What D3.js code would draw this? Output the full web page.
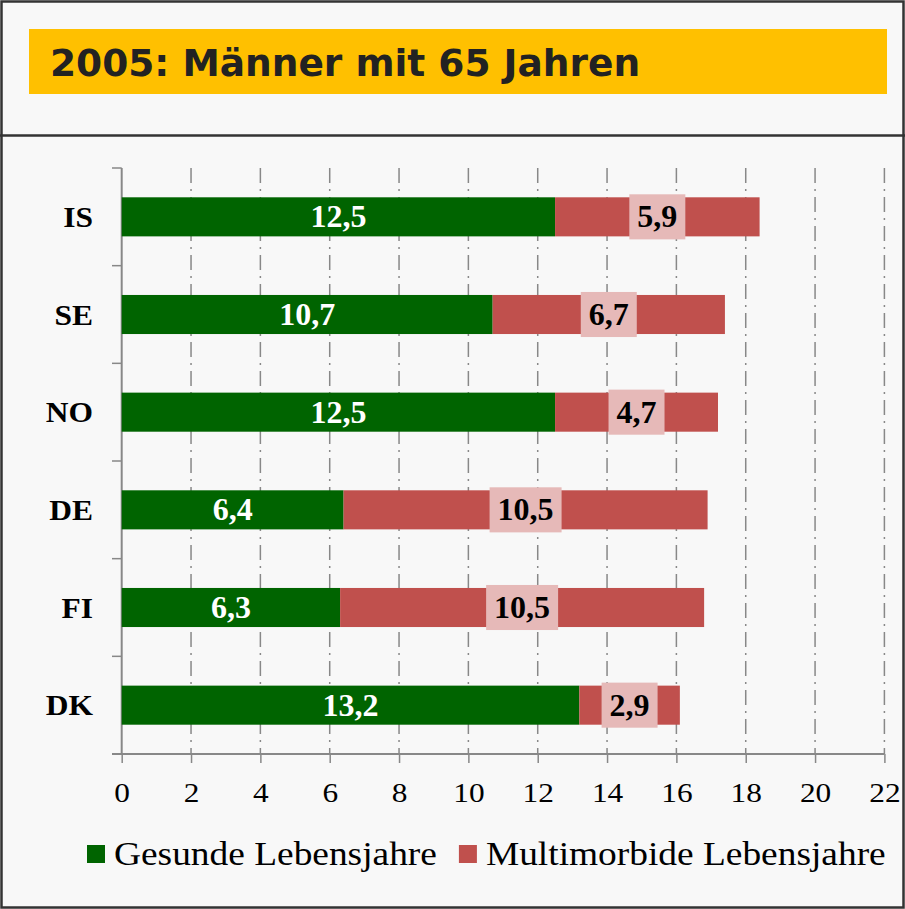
<!DOCTYPE html>
<html>
<head>
<meta charset="utf-8">
<script src="https://cdn.jsdelivr.net/npm/d3@7"></script>
<style>
  html, body { margin: 0; padding: 0; background: #f8f8f8; }
</style>
</head>
<body>
<div id="chart"></div>
<script>
const categories = ['IS', 'SE', 'NO', 'DE', 'FI', 'DK'];
const healthy = [12.5, 10.7, 12.5, 6.4, 6.3, 13.2];
const multimorbid = [5.9, 6.7, 4.7, 10.5, 10.5, 2.9];
const xTicks = [0, 2, 4, 6, 8, 10, 12, 14, 16, 18, 20, 22];
const seriesNames = ['Gesunde Lebensjahre', 'Multimorbide Lebensjahre'];
const titleText = '2005: Männer mit 65 Jahren';

const width = 905;
const height = 909;
const serif = '"Liberation Serif", "Times New Roman", serif';
const colors = ['#006400', '#c0504d'];

const svg = d3.select('#chart')
  .append('svg')
  .attr('width', width)
  .attr('height', height);

svg.append('rect')
  .attr('width', width)
  .attr('height', height)
  .attr('fill', '#f8f8f8');

// outer frame + title separator
svg.append('rect')
  .attr('x', 1.5).attr('y', 1.5)
  .attr('width', width - 3).attr('height', height - 3)
  .attr('fill', 'none')
  .attr('stroke', '#333')
  .attr('stroke-width', 2.5);

svg.append('line')
  .attr('x1', 0).attr('x2', width)
  .attr('y1', 135.5).attr('y2', 135.5)
  .attr('stroke', '#333')
  .attr('stroke-width', 2.5);

// title
svg.append('rect')
  .attr('x', 29).attr('y', 29)
  .attr('width', 858).attr('height', 65)
  .attr('fill', '#ffc000');

svg.append('text')
  .attr('x', 50)
  .attr('y', 76)
  .style('font-family', '"DejaVu Sans", sans-serif')
  .style('font-weight', 'bold')
  .style('font-size', '37.5px')
  .style('fill', '#222')
  .text(titleText);

const x = d3.scaleLinear()
  .domain([0, 22])
  .range([121.7, 884.4]);

const y = d3.scaleBand()
  .domain(categories)
  .range([168, 754])
  .padding(0);

const bh = y.bandwidth() * 0.4;
const plot = svg.append('g');

// dash-dot gridlines
plot.selectAll('.grid')
  .data(xTicks.slice(1))
  .join('line')
  .attr('class', 'grid')
  .attr('x1', d => x(d)).attr('x2', d => x(d))
  .attr('y1', 168).attr('y2', 754)
  .attr('stroke', '#888')
  .attr('stroke-width', 1.5)
  .attr('stroke-dasharray', '15,6,2,6');

// x axis
const xAxis = plot.append('g')
  .attr('transform', 'translate(0,754)')
  .call(d3.axisBottom(x).tickValues(xTicks).tickSize(9).tickSizeOuter(0).tickFormat(d => d));
xAxis.select('.domain').remove();
xAxis.selectAll('.tick line').attr('stroke', '#888').attr('stroke-width', 1.5);
xAxis.selectAll('.tick text')
  .attr('y', 0).attr('dy', null)
  .attr('transform', 'translate(0,48) scale(1.12,1)')
  .style('font-family', serif)
  .style('font-size', '28px')
  .style('fill', '#000');

plot.append('line')
  .attr('x1', 112).attr('x2', x(22))
  .attr('y1', 754).attr('y2', 754)
  .attr('stroke', '#888').attr('stroke-width', 2);

// y axis with ticks at band edges
plot.append('line')
  .attr('x1', x(0)).attr('x2', x(0))
  .attr('y1', 168).attr('y2', 754)
  .attr('stroke', '#888').attr('stroke-width', 2);

const edges = categories.map(c => y(c)).concat([y(categories[categories.length - 1]) + y.bandwidth()]);
plot.selectAll('.ytick')
  .data(edges)
  .join('line')
  .attr('class', 'ytick')
  .attr('x1', 112).attr('x2', x(0))
  .attr('y1', d => d).attr('y2', d => d)
  .attr('stroke', '#888').attr('stroke-width', 1.5);

plot.selectAll('.ylabel')
  .data(categories)
  .join('text')
  .attr('class', 'ylabel')
  .attr('transform', d => `translate(93,${y(d) + y.bandwidth() / 2}) scale(1.05,1)`)
  .attr('dy', '0.34em')
  .attr('text-anchor', 'end')
  .style('font-family', serif)
  .style('font-weight', 'bold')
  .style('font-size', '30px')
  .text(d => d);

// stacked bars
const rows = categories.map((c, i) => ({ c, a: healthy[i], b: multimorbid[i] }));
const barTop = d => y(d.c) + (y.bandwidth() - bh) / 2;

plot.selectAll('.bar-a')
  .data(rows)
  .join('rect')
  .attr('class', 'bar-a')
  .attr('x', x(0))
  .attr('y', barTop)
  .attr('width', d => x(d.a) - x(0))
  .attr('height', bh)
  .attr('fill', colors[0]);

plot.selectAll('.bar-b')
  .data(rows)
  .join('rect')
  .attr('class', 'bar-b')
  .attr('x', d => x(d.a))
  .attr('y', barTop)
  .attr('width', d => x(d.a + d.b) - x(d.a))
  .attr('height', bh)
  .attr('fill', colors[1]);

const fmt = v => String(v.toFixed(1)).replace('.', ',');

plot.selectAll('.lab-a')
  .data(rows)
  .join('text')
  .attr('class', 'lab-a')
  .attr('x', d => (x(0) + x(d.a)) / 2)
  .attr('y', d => y(d.c) + y.bandwidth() / 2)
  .attr('dy', '0.33em')
  .attr('text-anchor', 'middle')
  .style('font-family', serif)
  .style('font-weight', 'bold')
  .style('font-size', '32px')
  .style('fill', '#fff')
  .text(d => fmt(d.a));

// labels on red segment sit in a pink box
const labB = plot.selectAll('.lab-b')
  .data(rows)
  .join('g')
  .attr('class', 'lab-b')
  .attr('transform', d => `translate(${(x(d.a) + x(d.a + d.b)) / 2},${y(d.c) + y.bandwidth() / 2})`);

labB.append('rect').attr('fill', '#e6b9b8');
labB.append('text')
  .attr('dy', '0.33em')
  .attr('text-anchor', 'middle')
  .style('font-family', serif)
  .style('font-weight', 'bold')
  .style('font-size', '32px')
  .style('fill', '#000')
  .text(d => fmt(d.b));

labB.each(function () {
  const g = d3.select(this);
  const w = g.select('text').node().getComputedTextLength() + 16;
  const h = bh + 6;
  g.select('rect')
    .attr('x', -w / 2).attr('y', -h / 2)
    .attr('width', w).attr('height', h);
});

// legend (serif text a bit wider than Liberation, so stretch it)
const legend = svg.append('g');
const stretch = 1.1;
let lx = 87;
seriesNames.forEach((name, i) => {
  legend.append('rect')
    .attr('x', lx).attr('y', 845)
    .attr('width', 18).attr('height', 18)
    .attr('fill', colors[i]);
  const t = legend.append('text')
    .attr('transform', `translate(${lx + 27},865) scale(${stretch},1)`)
    .style('font-family', serif)
    .style('font-size', '34px')
    .style('fill', '#000')
    .text(name);
  lx += 27 + t.node().getComputedTextLength() * stretch + 22;
});
</script>
</body>
</html>
